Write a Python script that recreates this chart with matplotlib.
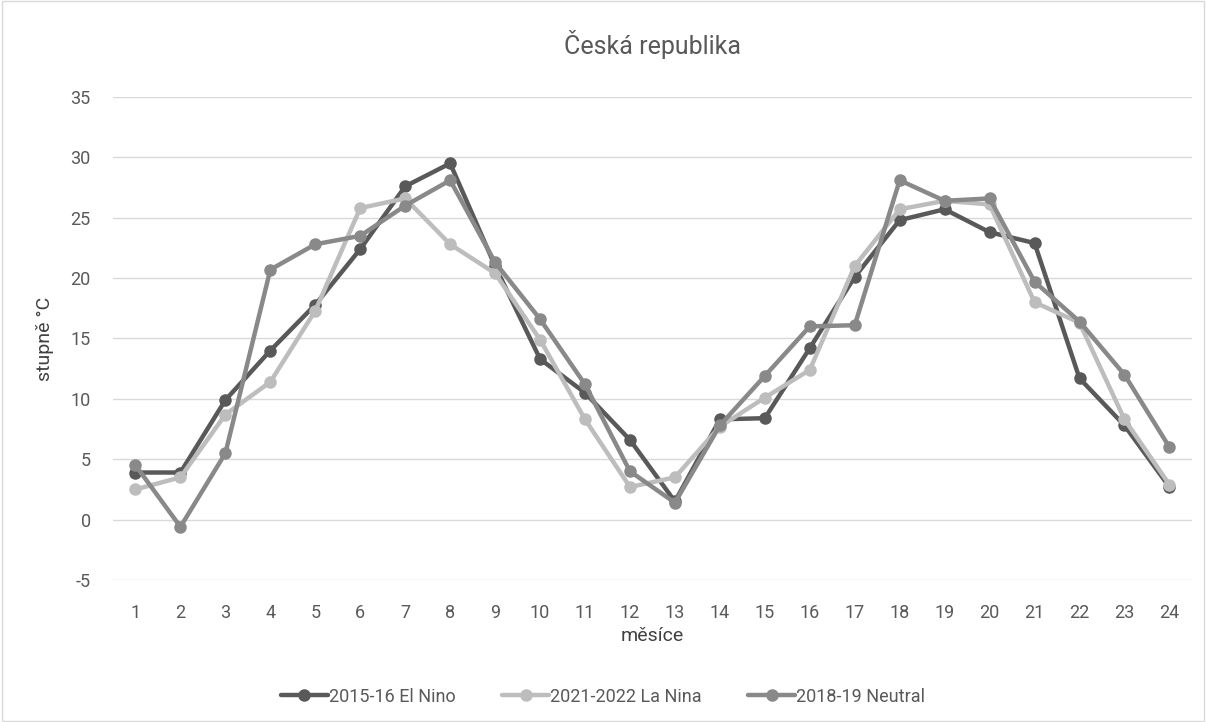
import matplotlib
matplotlib.use("Agg")
import matplotlib.pyplot as plt
from matplotlib.patches import Rectangle

plt.rcParams["font.family"] = ["Roboto", "DejaVu Sans"]
plt.rcParams["axes.unicode_minus"] = False

months = list(range(1, 25))
el_nino = [3.9, 3.9, 9.9, 14.0, 17.8, 22.4, 27.6, 29.5, 21.0, 13.3, 10.5, 6.6,
           1.5, 8.3, 8.4, 14.2, 20.1, 24.8, 25.7, 23.8, 22.9, 11.7, 7.8, 2.7]
la_nina = [2.5, 3.5, 8.7, 11.4, 17.3, 25.8, 26.6, 22.8, 20.4, 14.9, 8.3, 2.7,
           3.5, 7.7, 10.1, 12.4, 21.0, 25.7, 26.4, 26.1, 18.0, 16.3, 8.3, 2.9]
neutral = [4.5, -0.6, 5.5, 20.7, 22.8, 23.5, 26.0, 28.1, 21.3, 16.6, 11.2, 4.0,
           1.4, 7.8, 11.9, 16.0, 16.1, 28.1, 26.4, 26.6, 19.7, 16.4, 12.0, 6.0]
labels = ["2015-16 El Nino", "2021-2022 La Nina", "2018-19 Neutral"]
colors = ["#595959", "#bdbdbd", "#898989"]

fig = plt.figure(figsize=(12.06, 7.22), dpi=100)
ax = fig.add_axes([0.0937, 0.1967, 0.8946, 0.669])

for ys, lab, c in zip([el_nino, la_nina, neutral], labels, colors):
    ax.plot(months, ys, color=c, lw=3.2, marker="o", ms=8, label=lab,
            solid_capstyle="round", solid_joinstyle="round")

ax.set_xlim(0.5, 24.5)
ax.set_ylim(-5, 35)
ax.set_yticks(range(-5, 36, 5))
ax.set_xticks(months)
ax.grid(axis="y", color="#d9d9d9", lw=1)
ax.set_axisbelow(True)
for s in ax.spines.values():
    s.set_visible(False)
ax.tick_params(length=0, labelsize=13, colors="#595959")
ax.tick_params(axis="x", pad=17)
ax.tick_params(axis="y", pad=16)

ax.set_title("Česká republika", fontsize=18, color="#595959", pad=31)
ax.set_xlabel("měsíce", fontsize=14, color="#404040", labelpad=4)
ax.set_ylabel("stupně °C", fontsize=14, color="#404040", labelpad=12)

fig.legend(loc="lower center", bbox_to_anchor=(0.5, 0.0), ncol=3, frameon=False,
           fontsize=13, labelcolor="#595959", handlelength=2.6, handletextpad=0.05,
           columnspacing=2.6)

fig.patches.append(Rectangle((0.002, 0.002), 0.996, 0.996, transform=fig.transFigure,
                             fill=False, edgecolor="#d9d9d9", lw=1))

fig.savefig("out.png", dpi=100)
